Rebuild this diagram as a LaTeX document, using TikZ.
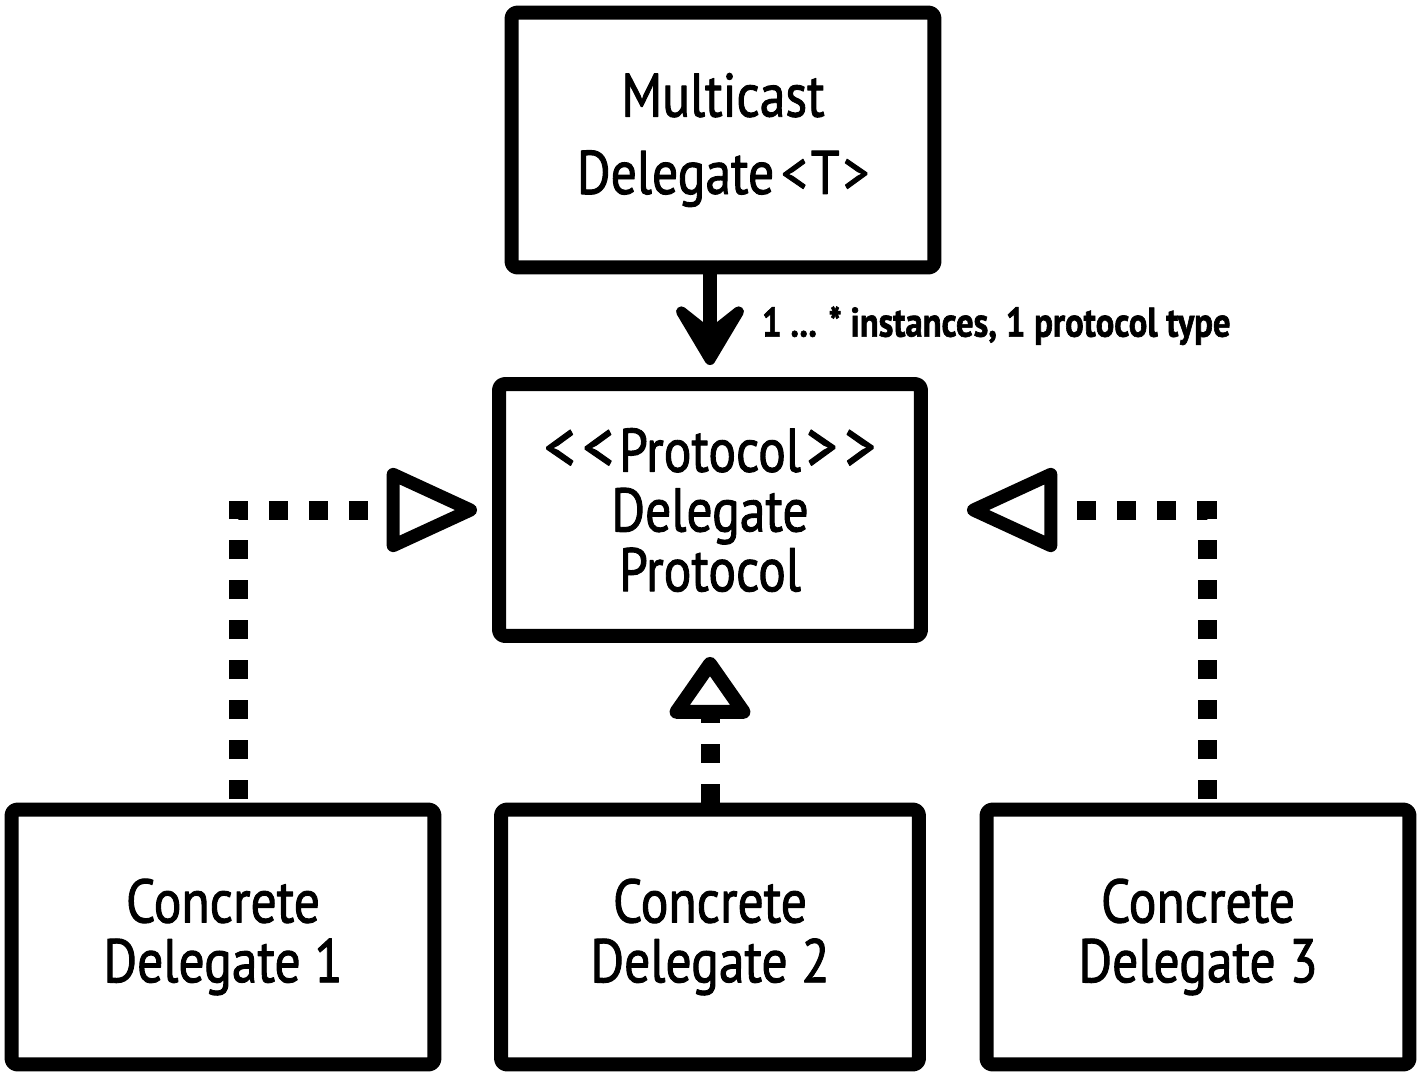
\documentclass[tikz,border=0pt]{standalone}
\usepackage{fontspec}
\setmainfont[FakeStretch=0.84, FakeBold=1.5]{PT Sans}
\usetikzlibrary{arrows.meta,positioning}

\begin{document}
\begin{tikzpicture}[
    x=0.02cm, y=-0.02cm,
    box/.style={rectangle, draw=black, line width=0.28cm, line join=round, rounded corners=0.12cm,
                minimum width=8.46cm, minimum height=5.1cm, align=center,
                font=\fontsize{35}{34}\selectfont},
    realize/.style={line width=0.38cm, dash pattern=on 0.38cm off 0.42cm, dash phase=0.73cm,
                -{Triangle[open, round, length=2cm 0, width=1.76cm 0, line width=0.26cm 0]}},
    uses/.style={line width=0.28cm,
                -{Stealth[round, length=1.6cm 0, width=1.9cm 0, inset=0.75cm 0]}}
]

\fill[white, use as bounding box] (0,0) rectangle (1424,1076);

\node[box, font=\fontsize{35}{44}\selectfont] (mcast) at (723,140) {Multicast\\Delegate\kern4pt<\kern2pt T\kern2pt>};
\node[box, minimum width=8.44cm, minimum height=5.04cm] (proto) at (710,510)
    {{\fontsize{42}{34}\selectfont<\kern4pt<}\kern3pt Protocol\kern3pt{\fontsize{42}{34}\selectfont>\kern4pt>}\\Delegate\\Protocol};
\node[box] (conc1) at (223,937) {Concrete\\Delegate 1};
\node[box, minimum width=8.36cm] (conc2) at (710,937) {Concrete\\Delegate 2};
\node[box] (conc3) at (1198,937) {Concrete\\Delegate 3};

\coordinate (bendL) at (238,510);
\coordinate (bendR) at (1207,510);

\draw[uses, shorten >=0.24cm] (mcast.south -| proto.north) -- node[midway, right=0.9cm, inner sep=0pt,
    font=\bfseries\fontsize{23.5}{28}\selectfont] {1 ... * instances, 1 protocol type} (proto.north);

\draw[realize, shorten >=0.3cm] (conc1.north -| bendL) |- (proto.west);
\draw[realize, shorten >=0.78cm] (conc3.north -| bendR) |- (proto.east);
\draw[realize, dash phase=0cm, shorten >=0.28cm,
    -{Triangle[open, round, length=1.35cm 0, width=1.8cm 0, line width=0.28cm 0]}]
    (conc2.north -| proto.south) -- (proto.south);

\end{tikzpicture}
\end{document}
